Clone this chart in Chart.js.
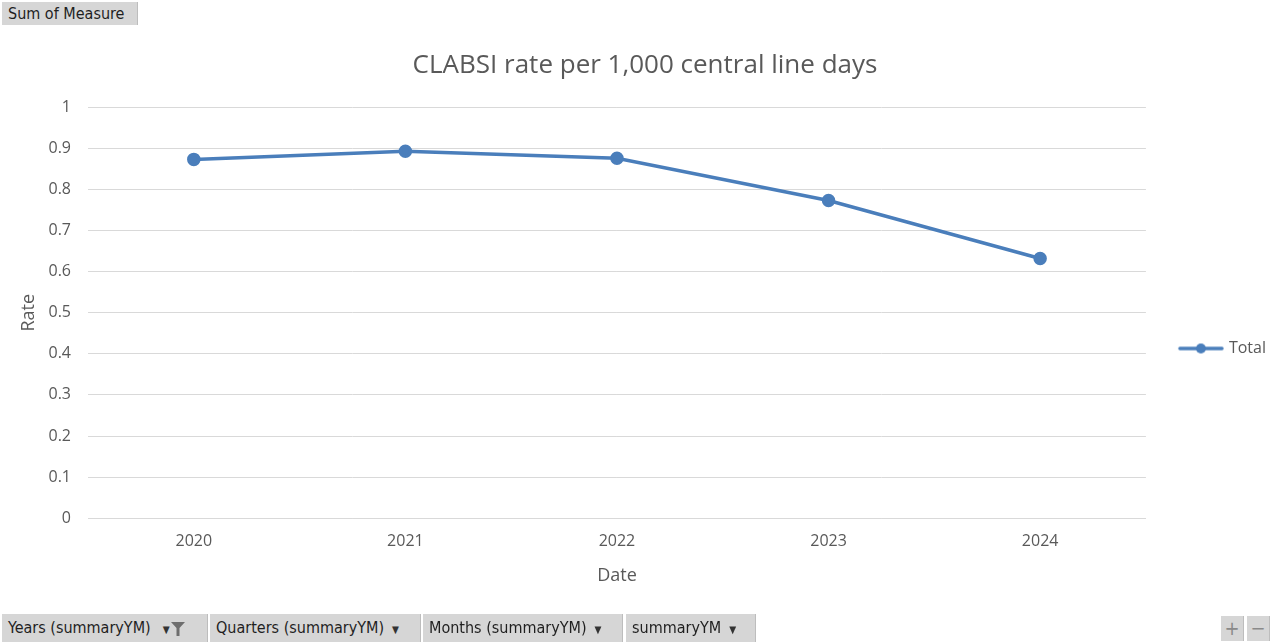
<!DOCTYPE html>
<html>
<head>
<meta charset="utf-8">
<script src="https://cdn.jsdelivr.net/npm/chart.js@4.4.1/dist/chart.umd.min.js"></script>
<style>
  html, body { margin: 0; padding: 0; background: #ffffff; width: 1281px; height: 644px; overflow: hidden; }
  #wrap { position: absolute; left: 0; top: 0; width: 1281px; height: 644px; }
  .btn { position: absolute; background: #d6d6d6; color: #1f1f1f; font-family: "Liberation Sans Narrow", "DejaVu Sans Condensed", sans-serif;
         font-size: 16px; line-height: 28px; height: 28px; padding: 0 6px; box-sizing: border-box; white-space: nowrap;
         border-right: 1px solid #bdbdbd; }
  .arrow { font-size: 10px; margin-left: 8px; color: #333; }
  .funnel { display: inline-block; vertical-align: middle; margin-left: 1px; }
</style>
</head>
<body>
<div id="wrap"><canvas id="c" width="1281" height="644"></canvas></div>
<div class="btn" style="left:2px;top:2px;height:23px;line-height:23px;width:136px;">Sum of Measure</div>
<div class="btn" style="left:2px;top:614px;width:206px;">Years (summaryYM)<span class="arrow" style="margin-left:12px">&#9660;</span><svg class="funnel" width="14" height="16" viewBox="0 0 14 16"><path d="M0 1 H14 L8.5 7 V15 H5.5 V7 Z" fill="#6e6e6e"/></svg></div>
<div class="btn" style="left:210px;top:614px;width:211px;">Quarters (summaryYM)<span class="arrow">&#9660;</span></div>
<div class="btn" style="left:423px;top:614px;width:200px;">Months (summaryYM)<span class="arrow">&#9660;</span></div>
<div class="btn" style="left:626px;top:614px;width:130px;">summaryYM<span class="arrow">&#9660;</span></div>
<div class="btn" style="left:1221px;top:616px;width:23px;height:25px;line-height:25px;text-align:center;padding:0;color:#8a8a8a;font-size:20px;">+</div>
<div class="btn" style="left:1247px;top:616px;width:23px;height:25px;line-height:25px;text-align:center;padding:0;color:#8a8a8a;font-size:20px;">&minus;</div>
<script>
const years = ['2020', '2021', '2022', '2023', '2024'];
const totalRate = [0.873, 0.893, 0.876, 0.773, 0.632];
const yTicks = [0, 0.1, 0.2, 0.3, 0.4, 0.5, 0.6, 0.7, 0.8, 0.9, 1];
const yTickLabels = ['0', '0.1', '0.2', '0.3', '0.4', '0.5', '0.6', '0.7', '0.8', '0.9', '1'];

const lineBlue = '#4a7ebb';
const textGrey = '#595959';
const font = '"Open Sans", "Noto Sans", sans-serif';

// legend swatch: short line with a round marker in the middle
const swatch = document.createElement('canvas');
swatch.width = 48; swatch.height = 12;
(function () {
  const g = swatch.getContext('2d');
  g.strokeStyle = lineBlue; g.lineWidth = 3.5; g.lineCap = 'round';
  g.beginPath(); g.moveTo(3, 6); g.lineTo(45, 6); g.stroke();
  g.fillStyle = lineBlue;
  g.beginPath(); g.arc(24, 6, 5, 0, Math.PI * 2); g.fill();
})();

new Chart(document.getElementById('c'), {
  type: 'line',
  data: {
    labels: years,
    datasets: [{
      label: 'Total',
      data: totalRate,
      borderColor: lineBlue,
      backgroundColor: lineBlue,
      borderWidth: 3.5,
      pointRadius: 5,
      pointHoverRadius: 5,
      tension: 0
    }]
  },
  options: {
    responsive: false,
    animation: false,
    layout: { padding: { top: 50, bottom: 57, left: 14, right: 5 } },
    plugins: {
      title: {
        display: true,
        text: 'CLABSI rate per 1,000 central line days',
        color: textGrey,
        font: { family: font, size: 26, weight: 'normal' },
        padding: { top: 0, bottom: 26 }
      },
      legend: {
        position: 'right',
        title: { display: true, text: ' ', padding: { top: 48, bottom: 0 }, font: { size: 10 } },
        labels: {
          usePointStyle: true,
          pointStyle: swatch,
          pointStyleWidth: 40,
          boxHeight: 12,
          color: textGrey,
          font: { family: font, size: 16 },
          padding: 35
        }
      },
      tooltip: { enabled: false }
    },
    scales: {
      x: {
        offset: true,
        grid: { display: false, drawTicks: false },
        border: { display: true, color: '#d9d9d9', width: 1 },
        ticks: { color: textGrey, font: { family: font, size: 16 }, padding: 14 },
        title: { display: true, text: 'Date', color: textGrey, font: { family: font, size: 18 }, padding: { top: 0, bottom: 0 } }
      },
      y: {
        min: 0, max: 1,
        afterBuildTicks: (axis) => { axis.ticks = yTicks.map(v => ({ value: v })); },
        afterFit: (axis) => { axis.width = 74; },
        grid: { color: '#d9d9d9', lineWidth: 1, drawTicks: false },
        border: { display: false },
        ticks: {
          color: textGrey, font: { family: font, size: 16 }, padding: 17,
          callback: (v) => yTickLabels[yTicks.indexOf(v)]
        },
        title: { display: true, text: 'Rate', color: textGrey, font: { family: font, size: 18 }, padding: { bottom: 4 } }
      }
    }
  }
});
</script>
</body>
</html>
